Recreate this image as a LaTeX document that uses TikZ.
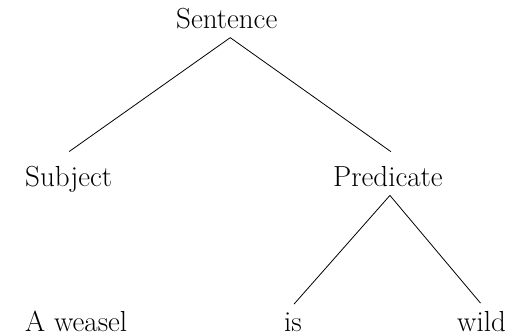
\documentclass[tikz,border=0pt]{standalone}
\begin{document}
\begin{tikzpicture}[x=1pt,y=1pt,
  word/.style={inner sep=0pt,anchor=base west,font=\fontsize{29}{34}\selectfont},
  branch/.style={line width=0.8pt}]
\useasboundingbox (0,0) rectangle (515,336);
\node[word] (S) at (176,307.5) {Sentence};
\node[word] (Sub) at (25,149.5) {Subject};
\node[word] (Pred) at (333,149.5) {Predicate};
\node[word] (A) at (25,4.5) {A weasel};
\node[word] (is) at (284,4.5) {is};
\node[word] (wild) at (457,4.5) {wild};
\draw[branch] ([xshift=0.5pt,yshift=14.5pt]Sub.north) -- ([xshift=3.5pt,yshift=-8.5pt]S.south) -- ([xshift=3pt,yshift=14.5pt]Pred.north);
\draw[branch] ([xshift=1pt,yshift=8.5pt]is.north) -- ([xshift=2pt,yshift=-8.5pt]Pred.south) -- ([xshift=-1pt,yshift=8pt]wild.north);
\end{tikzpicture}
\end{document}
